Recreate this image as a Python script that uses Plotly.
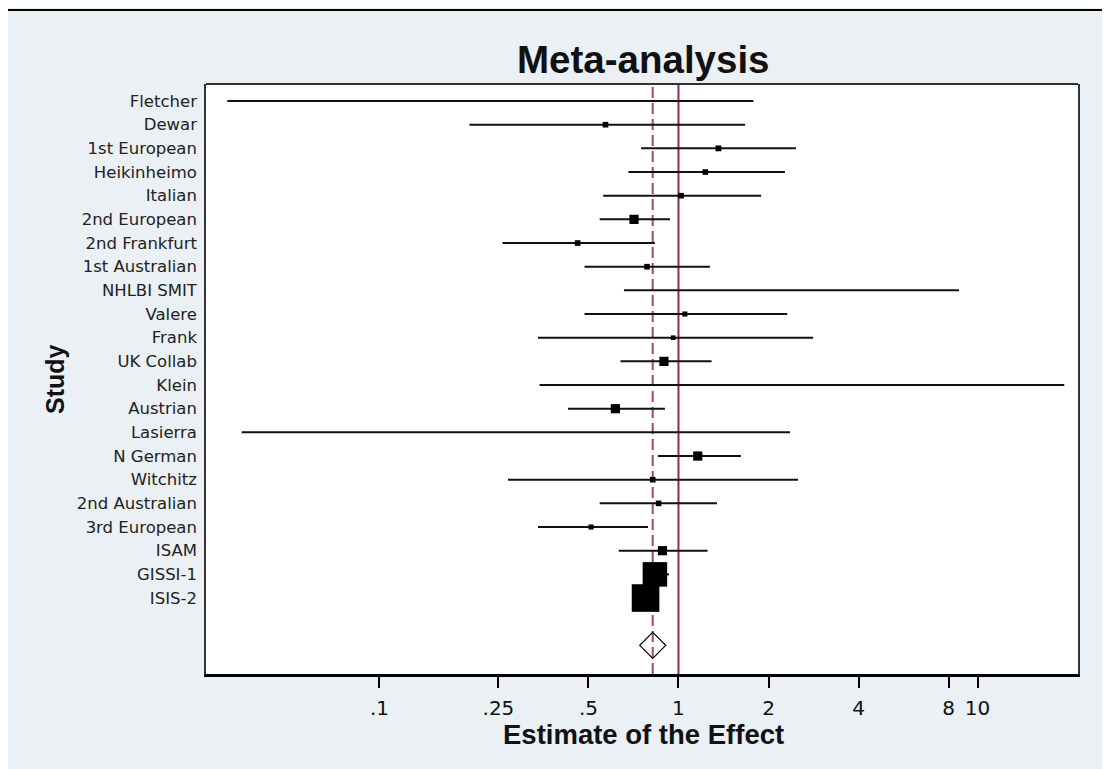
import math
import plotly.graph_objects as go

# ---------------- data ----------------
studies = ["Fletcher", "Dewar", "1st European", "Heikinheimo", "Italian",
           "2nd European", "2nd Frankfurt", "1st Australian", "NHLBI SMIT",
           "Valere", "Frank", "UK Collab", "Klein", "Austrian", "Lasierra",
           "N German", "Witchitz", "2nd Australian", "3rd European", "ISAM",
           "GISSI-1", "ISIS-2"]
estimate = [0.23, 0.57, 1.36, 1.23, 1.02, 0.71, 0.46, 0.785, 2.39, 1.05, 0.96,
            0.894, 2.58, 0.615, 0.29, 1.16, 0.82, 0.858, 0.51, 0.884, 0.834, 0.776]
ci_low = [0.031, 0.20, 0.75, 0.68, 0.56, 0.545, 0.258, 0.485, 0.657, 0.485, 0.339,
          0.640, 0.343, 0.427, 0.0346, 0.853, 0.269, 0.545, 0.339, 0.631, 0.76, 0.72]
ci_high = [1.78, 1.67, 2.47, 2.27, 1.89, 0.937, 0.834, 1.274, 8.67, 2.31, 2.82,
           1.290, 19.5, 0.901, 2.36, 1.618, 2.51, 1.345, 0.791, 1.251, 0.93, 0.84]
weight = [0.0, 1.49, 1.6, 1.49, 1.49, 4.0, 1.49, 1.49, 0.0, 1.23, 1.0,
          4.0, 0.0, 4.0, 0.0, 4.0, 1.49, 1.49, 1.23, 4.0, 28.4, 36.0]
pooled = 0.82
null_value = 1
x_ticks = [0.1, 0.25, 0.5, 1, 2, 4, 8, 10]
x_tick_labels = [".1", ".25", ".5", "1", "2", "4", "8", "10"]

# ---------------- layout geometry ----------------
OFF = 8                      # page body margin
W, H = 1102, 761
L, R, T, B = 198, 32, 76, 95
PW, PH = W - L - R, H - T - B
BG = "#EAF0F3"


def px_x(px):   # screen px -> paper
    return (px - OFF - L) / PW


def px_y(py):
    return (H - B - (py - OFF)) / PH


rows = list(range(1, len(studies) + 1))
diamond_row = len(studies) + 2

# whiskers
wx, wy = [], []
for lo, hi, r in zip(ci_low, ci_high, rows):
    wx += [lo, hi, None]
    wy += [r, r, None]

fig = go.Figure()
fig.add_trace(go.Scatter(x=wx, y=wy, mode="lines",
                         line=dict(color="#111111", width=2),
                         hoverinfo="skip", showlegend=False))
fig.add_trace(go.Scatter(x=estimate, y=rows, mode="markers",
                         marker=dict(symbol="square", color="black", opacity=1,
                                     size=[4.6 * math.sqrt(w) for w in weight],
                                     line=dict(width=0)),
                         text=studies, showlegend=False))
fig.add_trace(go.Scatter(x=[pooled], y=[diamond_row], mode="markers",
                         marker=dict(symbol="diamond-open", color="black", size=20,
                                     opacity=1,
                                     line=dict(width=1.2, color="black")),
                         showlegend=False))

# reference lines
fig.add_shape(type="line", xref="x", yref="paper", x0=null_value, x1=null_value,
              y0=0, y1=1, line=dict(color="#8E2A55", width=2), layer="below")
fig.add_shape(type="line", xref="x", yref="paper", x0=pooled, x1=pooled,
              y0=0, y1=1, line=dict(color="#A5476C", width=2, dash="11px,5px"),
              layer="below")
# top frame border
fig.add_shape(type="line", xref="paper", yref="paper", x0=0, x1=1, y0=1, y1=1,
              line=dict(color="#333333", width=2))
# top rule of the graph window
fig.add_shape(type="line", xref="paper", yref="paper", x0=px_x(0), x1=px_x(1120),
              y0=px_y(10), y1=px_y(10), line=dict(color="black", width=2))

title_font = dict(family="Liberation Sans, Arial, sans-serif", color="#111111",
                  weight="bold")
fig.add_annotation(text="Meta-analysis", xref="paper", yref="paper",
                   x=px_x(643.5), y=px_y(60), xanchor="center", yanchor="middle",
                   showarrow=False, font=dict(size=38.5, **title_font))
fig.add_annotation(text="Estimate of the Effect", xref="paper", yref="paper",
                   x=px_x(643), y=px_y(734), xanchor="center", yanchor="middle",
                   showarrow=False, font=dict(size=27.5, **title_font))
fig.add_annotation(text="Study", xref="paper", yref="paper",
                   x=px_x(55), y=0.5, xanchor="center", yanchor="middle",
                   textangle=-90, showarrow=False, font=dict(size=25, **title_font))

fig.update_xaxes(type="log", range=[-1.580, 1.336], tickvals=x_ticks,
                 ticktext=x_tick_labels, showgrid=False, zeroline=False,
                 showline=True, linecolor="black", linewidth=3,
                 ticks="outside", ticklen=11, tickwidth=1.5, tickcolor="black",
                 ticklabelstandoff=3,
                 tickfont=dict(family="DejaVu Sans, sans-serif", size=20,
                               color="#111111"))
fig.update_yaxes(range=[25.21, 0.28], tickvals=rows, ticktext=studies,
                 showgrid=False, zeroline=False, showline=True, mirror=True,
                 linecolor="#333333", linewidth=1.5, ticks="",
                 ticklabelstandoff=4,
                 tickfont=dict(family="DejaVu Sans, sans-serif", size=16.5,
                               color="#222222"))

fig.update_layout(width=W, height=H, margin=dict(l=L, r=R, t=T, b=B,
                                                 autoexpand=False),
                  paper_bgcolor=BG, plot_bgcolor="white", showlegend=False)

fig.write_html("out.html")
